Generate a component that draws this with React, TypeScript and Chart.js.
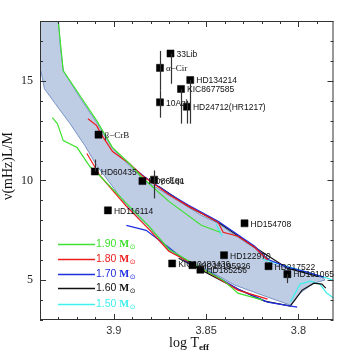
import React, { useEffect, useRef } from 'react';
import { Chart, registerables } from 'chart.js';

Chart.register(...registerables);

// ---------- data ----------
const starNames = ['33Lib', 'α−Cir', '10Aql', 'HD134214', 'KIC8677585', 'HD24712(HR1217)', 'β−CrB', 'HD60435', 'HD86181', 'γ−Equ', 'HD116114', 'HD154708', 'HD122970', 'HD217522', 'HD101065', 'KIC10483436', 'KIC10195926', 'HD185256'];
const starLogTeff = [3.8693, 3.875, 3.875, 3.8586, 3.8636, 3.8604, 3.9083, 3.9103, 3.8845, 3.8782, 3.9032, 3.8292, 3.8403, 3.8162, 3.806, 3.8684, 3.8574, 3.8531];
const starNu = [16.37, 15.65, 13.92, 15.04, 14.59, 13.7, 12.3, 10.45, 9.97, 10.04, 8.5, 7.85, 6.25, 5.7, 5.3, 5.835, 5.75, 5.525];
const starNuLow = [14.85, 14.5, 13.15, 12.85, 12.85, 12.85, 12.3, 10.45, 9.97, 9.1, 8.5, 7.85, 6.25, 5.7, 4.85, 5.835, 5.75, 5.525];
const starNuHigh = [16.37, 16.5, 14.5, 15.04, 14.59, 14.0, 12.3, 11.05, 9.97, 10.5, 8.5, 7.85, 6.25, 5.7, 5.3, 5.835, 5.75, 5.525];

// instability band outline (log Teff, nu L/M)
const band: [number, number][] = [
  [3.9301, 18.2], [3.929, 16.75], [3.9274, 15.5], [3.9183, 14.15], [3.9093, 12.9], [3.9007, 11.6],
  [3.8916, 10.75], [3.8847, 10.1], [3.8702, 9.25], [3.8595, 8.65], [3.8526, 8.25], [3.8435, 7.85],
  [3.8344, 7.25], [3.8237, 6.6], [3.8167, 5.9], [3.806, 5.6], [3.7953, 5.35], [3.7863, 5.1],
  [3.7857, 5.0], [3.7916, 4.85], [3.7991, 4.35], [3.8044, 3.75],
  [3.8167, 4.15], [3.8344, 4.75], [3.8488, 5.5], [3.8595, 5.9], [3.8702, 6.5], [3.8809, 7.65],
  [3.8932, 8.75], [3.9023, 9.9], [3.9093, 10.75], [3.9157, 11.75], [3.9237, 12.85], [3.9317, 13.85],
  [3.9376, 14.6], [3.9395, 15.5], [3.94, 18.2], [3.9301, 18.2],
];

const track190Upper: [number, number][] = [[3.9303, 18.5], [3.9301, 17.95], [3.9274, 15.5], [3.9183, 14.25], [3.9093, 13.0], [3.9007, 11.65], [3.8916, 10.85], [3.8847, 10.15], [3.8702, 8.95], [3.8526, 7.75], [3.8424, 7.4]];
const track190Lower: [number, number][] = [[3.9333, 13.15], [3.9306, 12.85], [3.9274, 12.0], [3.9199, 11.65], [3.913, 10.7], [3.9093, 10.4], [3.8932, 8.85], [3.8809, 7.7], [3.8702, 6.55], [3.8526, 5.6], [3.8408, 5.0], [3.8328, 4.35], [3.8194, 4.0]];
const track180Upper: [number, number][] = [[3.914, 13.1], [3.9093, 12.75], [3.9071, 12.35], [3.9007, 11.45], [3.8916, 10.85], [3.8847, 10.25], [3.8702, 9.3], [3.8595, 8.7], [3.8435, 7.9], [3.8408, 7.4], [3.8328, 7.2], [3.8237, 6.65], [3.8167, 6.0]];
const track180Lower: [number, number][] = [[3.9146, 11.35], [3.9114, 10.85], [3.9076, 10.25], [3.8932, 8.7], [3.8809, 7.55], [3.8702, 6.45], [3.8488, 5.4], [3.8328, 4.5], [3.8167, 4.05]];
const track170Upper: [number, number][] = [[3.8889, 10.6], [3.8836, 10.2], [3.8702, 9.35], [3.8595, 8.75], [3.8435, 7.95], [3.8237, 6.7], [3.8167, 6.05], [3.806, 5.65], [3.7953, 5.4], [3.7863, 5.15]];
const track170Lower: [number, number][] = [[3.8932, 7.75], [3.8825, 7.5], [3.8718, 6.75], [3.8595, 5.85], [3.8488, 5.45], [3.8328, 4.55], [3.8167, 3.9], [3.8007, 3.65]];
const track160Upper: [number, number][] = [[3.8756, 9.7], [3.8595, 8.7], [3.8435, 7.9], [3.8237, 6.65], [3.806, 5.6], [3.79, 5.2]];
const track160Lower: [number, number][] = [[3.8649, 6.1], [3.8328, 4.55], [3.8183, 3.95], [3.8044, 3.7], [3.798, 4.5], [3.7916, 4.85], [3.7873, 4.8], [3.7852, 4.6]];
const track150Upper: [number, number][] = [[3.8194, 6.05], [3.7991, 5.5], [3.7863, 5.15], [3.7793, 4.95]];
const track150Lower: [number, number][] = [[3.8044, 3.9], [3.7991, 4.8], [3.7937, 4.95], [3.7884, 4.8], [3.7847, 4.35], [3.7793, 4.0]];
const track150Mid: [number, number][] = [[3.8446, 7.8], [3.8413, 7.2]];

const massLabels = ['1.90', '1.80', '1.70', '1.60', '1.50'];
const massColors = ['#3fe030', '#ee1c1c', '#1f2ee0', '#111111', '#3ff0ee'];

const xMajorTicks = [3.9, 3.85, 3.8];
const yMajorTicks = [5, 10, 15];

// ---------- helpers ----------
const pts = (arr: [number, number][]) => arr.map(([x, y]) => ({ x, y }));
const isMajorX = (v: number) => xMajorTicks.some((m) => Math.abs(m - v) < 1e-6);
const isMajorY = (v: number) => yMajorTicks.some((m) => Math.abs(m - v) < 1e-6);

const overlayPlugin = {
  id: 'overlay',
  afterDatasetsDraw(chart: any) {
    const { ctx, chartArea: a, scales } = chart;
    const xs = scales.x;
    const ys = scales.y;
    ctx.save();

    // error bars
    ctx.strokeStyle = '#333';
    ctx.lineWidth = 1.2;
    starNames.forEach((_, i) => {
      if (starNuHigh[i] - starNuLow[i] > 0.01) {
        const px = Math.round(xs.getPixelForValue(starLogTeff[i])) + 0.5;
        ctx.beginPath();
        ctx.moveTo(px, ys.getPixelForValue(starNuHigh[i]));
        ctx.lineTo(px, ys.getPixelForValue(starNuLow[i]));
        ctx.stroke();
      }
    });

    // star labels
    ctx.fillStyle = '#111';
    ctx.textBaseline = 'middle';
    ctx.textAlign = 'left';
    starNames.forEach((name, i) => {
      const greek = /[αβγ]/.test(name);
      ctx.font = greek ? '9px "Liberation Serif"' : '8.5px "Liberation Sans"';
      const px = xs.getPixelForValue(starLogTeff[i]);
      const py = ys.getPixelForValue(starNu[i]);
      ctx.fillText(name, px + 6, py + 1);
    });

    // frame
    ctx.strokeStyle = '#333';
    ctx.lineWidth = 1;
    ctx.strokeRect(a.left + 0.5, a.top + 0.5, a.right - a.left - 1, a.bottom - a.top - 1);

    // inward ticks on all four sides
    ctx.beginPath();
    xs.ticks.forEach((t: any) => {
      const len = isMajorX(t.value) ? 6 : 3;
      const px = Math.round(xs.getPixelForValue(t.value)) + 0.5;
      ctx.moveTo(px, a.bottom);
      ctx.lineTo(px, a.bottom - len);
      ctx.moveTo(px, a.top);
      ctx.lineTo(px, a.top + len);
    });
    ys.ticks.forEach((t: any) => {
      const len = isMajorY(t.value) ? 6 : 3;
      const py = Math.round(ys.getPixelForValue(t.value)) + 0.5;
      ctx.moveTo(a.left, py);
      ctx.lineTo(a.left + len, py);
      ctx.moveTo(a.right, py);
      ctx.lineTo(a.right - len, py);
    });
    ctx.stroke();

    // legend
    const rowY = [244, 259, 274, 288, 304];
    massLabels.forEach((m, i) => {
      const y = rowY[i] + 0.5;
      ctx.strokeStyle = massColors[i];
      ctx.lineWidth = 1.5;
      ctx.beginPath();
      ctx.moveTo(58, y);
      ctx.lineTo(95, y);
      ctx.stroke();
      ctx.fillStyle = massColors[i];
      ctx.textBaseline = 'middle';
      ctx.font = '10.5px "Liberation Sans"';
      const t1 = m + ' ';
      ctx.fillText(t1, 96, y);
      let x = 96 + ctx.measureText(t1).width;
      ctx.font = 'bold 10.5px "Liberation Serif"';
      ctx.fillText('M', x, y);
      x += ctx.measureText('M').width;
      ctx.font = '7px "DejaVu Sans"';
      ctx.fillText('⊙', x + 0.5, y + 3);
    });

    ctx.restore();
  },
  afterDraw(chart: any) {
    const { ctx } = chart;
    ctx.save();
    ctx.fillStyle = '#111';
    // y title
    ctx.translate(8, 166);
    ctx.rotate(-Math.PI / 2);
    ctx.textAlign = 'center';
    ctx.textBaseline = 'middle';
    ctx.font = '14px "Liberation Serif"';
    ctx.fillText('ν(mHz)L/M', 0, 0);
    ctx.restore();

    // x title
    ctx.save();
    ctx.fillStyle = '#111';
    ctx.textBaseline = 'alphabetic';
    ctx.textAlign = 'left';
    ctx.font = '14px "Liberation Serif"';
    const main = 'log T';
    const w1 = ctx.measureText(main).width;
    ctx.font = 'bold 9px "Liberation Serif"';
    const w2 = ctx.measureText('eff').width;
    const start = 189 - (w1 + w2) / 2;
    ctx.font = '14px "Liberation Serif"';
    ctx.fillText(main, start, 347);
    ctx.font = 'bold 9px "Liberation Serif"';
    ctx.fillText('eff', start + w1, 350);
    ctx.restore();
  },
};

export default function App() {
  const ref = useRef<HTMLCanvasElement | null>(null);

  useEffect(() => {
    if (!ref.current) return;
    const trackDs = (data: [number, number][], color: string) => ({
      type: 'scatter' as const,
      data: pts(data),
      showLine: true,
      borderColor: color,
      backgroundColor: color,
      borderWidth: 1.2,
      pointRadius: 0,
      fill: false,
      tension: 0,
      order: 2,
    });

    const chart = new Chart(ref.current, {
      type: 'scatter',
      data: {
        datasets: [
          {
            data: starLogTeff.map((t, i) => ({ x: t, y: starNu[i] })),
            pointStyle: 'rect',
            pointRadius: 5,
            backgroundColor: '#000',
            borderColor: '#000',
            borderWidth: 0.5,
            order: 1,
          } as any,
          trackDs(track190Upper, massColors[0]),
          trackDs(track190Lower, massColors[0]),
          trackDs(track180Upper, massColors[1]),
          trackDs(track180Lower, massColors[1]),
          trackDs(track170Upper, massColors[2]),
          trackDs(track170Lower, massColors[2]),
          trackDs(track160Upper, massColors[3]),
          trackDs(track160Lower, massColors[3]),
          trackDs(track150Upper, massColors[4]),
          trackDs(track150Lower, massColors[4]),
          trackDs(track150Mid, massColors[4]),
          {
            data: pts(band),
            showLine: true,
            fill: 'shape',
            backgroundColor: 'rgb(190,204,228)',
            borderColor: 'rgb(120,148,196)',
            borderWidth: 1,
            pointRadius: 0,
            tension: 0,
            order: 3,
          } as any,
        ],
      },
      options: {
        responsive: false,
        animation: false,
        devicePixelRatio: 1,
        events: [],
        layout: { padding: { left: 0, right: 3, top: 21, bottom: 0 } },
        plugins: { legend: { display: false }, tooltip: { enabled: false } },
        scales: {
          x: {
            type: 'linear',
            reverse: true,
            min: 3.781,
            max: 3.94,
            grid: { display: false, drawTicks: false },
            border: { display: false },
            ticks: {
              stepSize: 0.01,
              includeBounds: false,
              autoSkip: false,
              maxRotation: 0,
              padding: 4,
              color: '#333',
              font: { family: 'Liberation Sans', size: 11 },
              callback: (v: any) => (isMajorX(Number(v)) ? String(Math.round(Number(v) * 100) / 100) : ''),
            },
            afterFit: (s: any) => {
              s.height = 32;
            },
          },
          y: {
            type: 'linear',
            min: 3,
            max: 18,
            grid: { display: false, drawTicks: false },
            border: { display: false },
            ticks: {
              stepSize: 1,
              includeBounds: false,
              autoSkip: false,
              padding: 7,
              color: '#222',
              font: { family: 'Liberation Serif', size: 12 },
              callback: (v: any) => (isMajorY(Number(v)) ? String(v) : ''),
            },
            afterFit: (s: any) => {
              s.width = 40;
            },
          },
        },
      },
      plugins: [overlayPlugin],
    } as any);

    return () => chart.destroy();
  }, []);

  return (
    <div style={{ position: 'absolute', left: 0, top: 0, width: 339, height: 352, background: '#fff' }}>
      <canvas ref={ref} width={339} height={352} style={{ display: 'block' }} />
    </div>
  );
}
